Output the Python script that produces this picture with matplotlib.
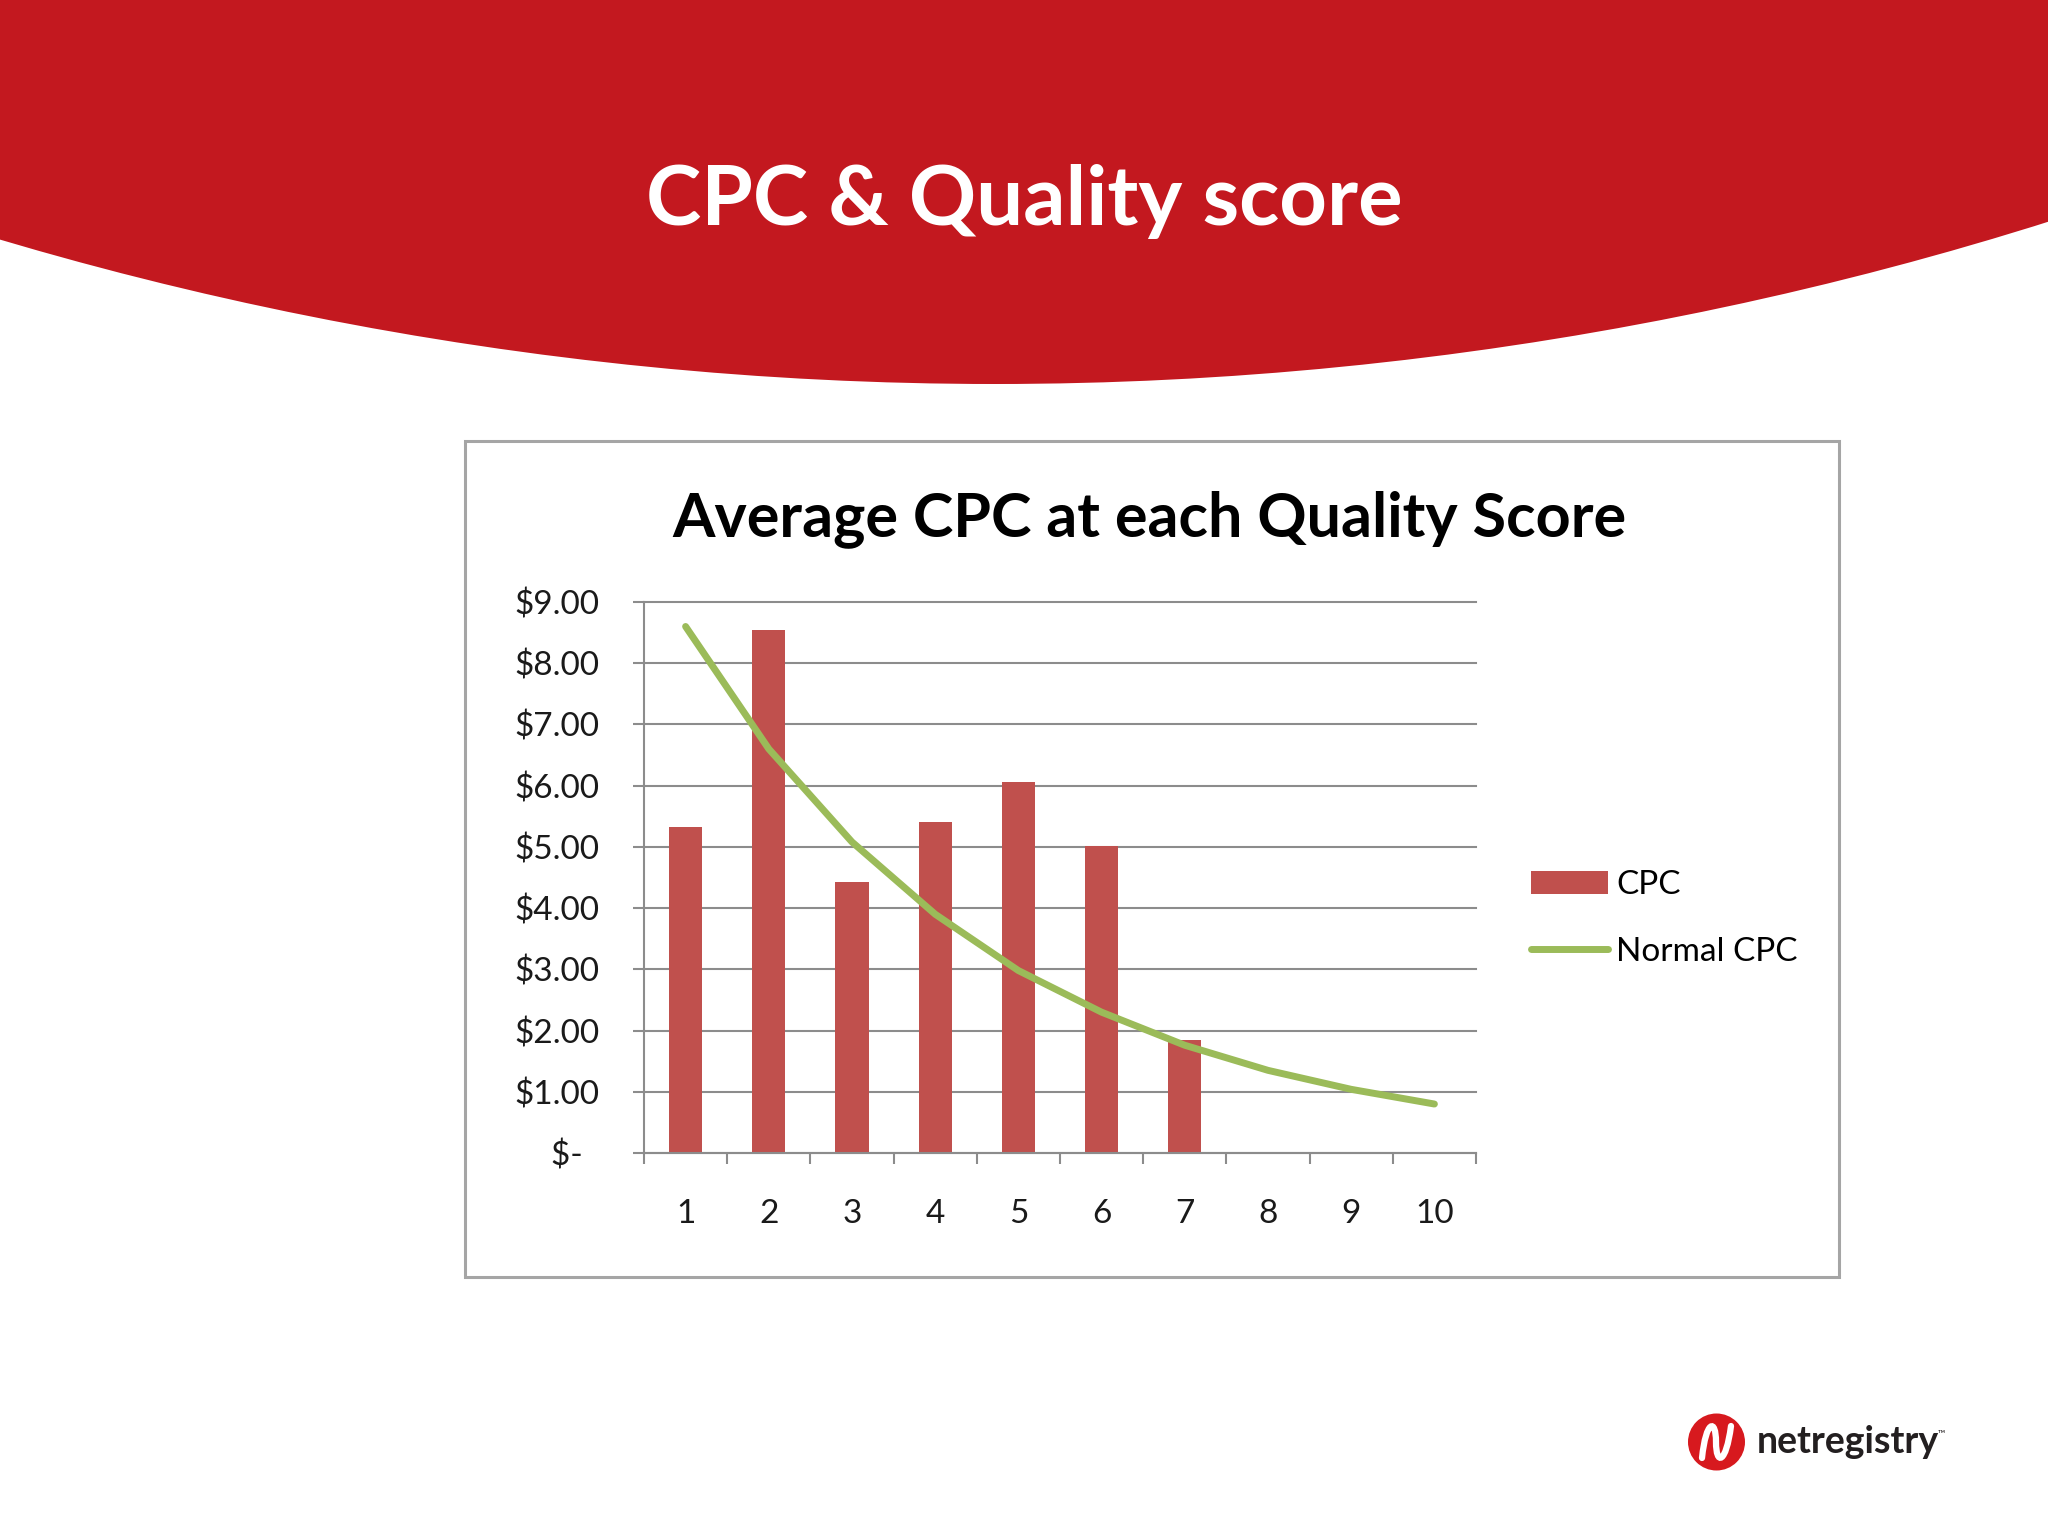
import matplotlib
matplotlib.use('Agg')
import numpy as np
import matplotlib.pyplot as plt
from matplotlib.patches import Circle, Rectangle, PathPatch
from matplotlib.path import Path

# ── Data ─────────────────────────────────────────────────────────────────────
quality_scores = [1, 2, 3, 4, 5, 6, 7, 8, 9, 10]
cpc = [5.32, 8.55, 4.43, 5.41, 6.06, 5.02, 1.84, np.nan, np.nan, np.nan]
normal_cpc = [8.60, 6.60, 5.08, 3.90, 2.98, 2.30, 1.76, 1.35, 1.04, 0.80]
y_ticks = [0, 1, 2, 3, 4, 5, 6, 7, 8, 9]
y_labels = ['$-  ', '$1.00', '$2.00', '$3.00', '$4.00',
            '$5.00', '$6.00', '$7.00', '$8.00', '$9.00']

RED = '#C3181F'
BAR = '#C0504D'
GREEN = '#9BBB59'
GRID = '#8C8C8C'
FONT = 'Lato'

plt.rcParams['font.family'] = FONT

fig = plt.figure(figsize=(20.48, 15.36), dpi=100)

# ── Slide background (pixel coordinates) ────────────────────────────────────
bg = fig.add_axes([0, 0, 1, 1])
bg.set_xlim(0, 2048)
bg.set_ylim(1536, 0)
bg.axis('off')

bg.add_patch(Circle((995, 384 - 3500), 3500, color=RED, lw=0))
bg.text(1024, 225, 'CPC & Quality score', ha='center', va='baseline',
        color='white', fontsize=60, fontweight='bold')

# chart frame
bg.add_patch(Rectangle((465, 441), 1374, 836, facecolor='white',
                       edgecolor='#A5A5A5', lw=2.2))
bg.text(1149, 536, 'Average CPC at each Quality Score', ha='center',
        va='baseline', color='black', fontsize=44, fontweight='bold')

# logo
bg.add_patch(Circle((1716.5, 1442), 28.5, color='#D7191E', lw=0))
wave = Path([(1702, 1458), (1706, 1420), (1716, 1418), (1716, 1442),
             (1716, 1466), (1726, 1464), (1731, 1426)],
            [Path.MOVETO, Path.CURVE4, Path.CURVE4, Path.CURVE4,
             Path.CURVE4, Path.CURVE4, Path.CURVE4])
bg.add_patch(PathPatch(wave, fill=False, edgecolor='white', lw=4.5,
                       capstyle='round'))
bg.text(1757, 1453, 'netregistry', ha='left', va='baseline',
        color='#231F20', fontsize=27, fontweight='bold')
bg.text(1938, 1436, '™', ha='left', va='baseline', color='#231F20', fontsize=7)

# ── Chart ────────────────────────────────────────────────────────────────────
ax = fig.add_axes([644 / 2048, (1536 - 1153) / 1536, 832 / 2048, 551 / 1536])
ax.set_facecolor('none')
x = np.arange(len(quality_scores))

ax.bar(x, cpc, width=0.4, color=BAR, zorder=2, label='CPC')
ax.plot(x, normal_cpc, color=GREEN, lw=5, solid_capstyle='round',
        zorder=3, label='Normal CPC')

ax.set_xlim(-0.5, 9.5)
ax.set_ylim(0, 9)
ax.set_yticks(y_ticks)
ax.set_yticklabels(y_labels)
ax.yaxis.grid(True, color=GRID, lw=1.5)
for gl in ax.get_ygridlines():
    gl.set_clip_on(False)
ax.set_axisbelow(True)

ax.set_xticks(np.arange(-0.5, 10, 1))
ax.set_xticklabels([])
ax.set_xticks(x, minor=True)
ax.set_xticklabels(quality_scores, minor=True)
ax.tick_params(axis='x', which='minor', length=0, pad=33, labelsize=24,
               labelcolor='#1a1a1a')
ax.tick_params(axis='x', which='major', length=8, width=1.5, color=GRID)
ax.tick_params(axis='y', length=8, width=1.5, color=GRID, pad=24,
               labelsize=24, labelcolor='#1a1a1a')

for side in ['top', 'right']:
    ax.spines[side].set_visible(False)
for side in ['left', 'bottom']:
    ax.spines[side].set_color(GRID)
    ax.spines[side].set_linewidth(1.5)

handles, labels = ax.get_legend_handles_labels()
order = [labels.index('CPC'), labels.index('Normal CPC')]
ax.legend([handles[i] for i in order], [labels[i] for i in order],
          loc='upper left', bbox_to_anchor=(1531 / 2048, 1 - 870 / 1536),
          bbox_transform=fig.transFigure, frameon=False, fontsize=24,
          handlelength=2.3, handletextpad=0.25, labelspacing=1.1,
          borderpad=0, borderaxespad=0)

fig.savefig('out.png', dpi=100)
